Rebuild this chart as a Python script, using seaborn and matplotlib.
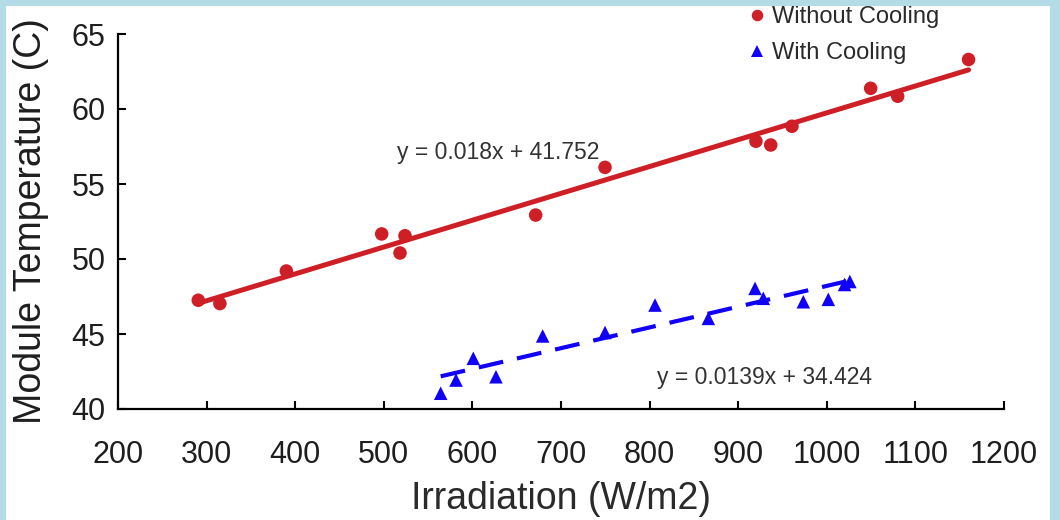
import numpy as np
import pandas as pd
import matplotlib
matplotlib.use("Agg")
import matplotlib.pyplot as plt
from matplotlib.patches import Rectangle
import seaborn as sns

# values
irr_without = [290.6, 315.0, 390.0, 497.6, 518.3, 523.9, 671.4, 749.7, 920.0, 936.7, 960.7, 1049.5, 1080.0, 1160.0]
temp_without = [47.25, 47.03, 49.2, 51.67, 50.4, 51.55, 52.93, 56.11, 57.85, 57.6, 58.85, 61.38, 60.85, 63.3]

irr_with = [564.2, 581.5, 601.0, 626.6, 679.3, 749.7, 806.1, 866.3, 919.0, 928.3, 973.5, 1001.7, 1020.0, 1026.0]
temp_with = [41.05, 41.93, 43.38, 42.15, 44.87, 45.1, 46.93, 46.04, 48.04, 47.38, 47.15, 47.31, 48.3, 48.5]

labels = ["Without Cooling", "With Cooling"]
eq_text = ["y = 0.018x + 41.752", "y = 0.0139x + 34.424"]

red = "#cf1f26"
blue = "#1000f5"

df = pd.DataFrame({
    "Irradiation": irr_without + irr_with,
    "Temp": temp_without + temp_with,
    "Condition": [labels[0]] * len(irr_without) + [labels[1]] * len(irr_with),
})

sns.set_style("ticks")
plt.rcParams['font.family'] = ['Liberation Sans', 'DejaVu Sans']

fig = plt.figure(figsize=(10.6, 5.2), dpi=100, facecolor="#b4dce6")
# white panel inside the light blue frame
fig.patches.append(Rectangle((6 / 1060, 0), 1044 / 1060, 514 / 520,
                             transform=fig.transFigure, facecolor="white",
                             edgecolor="none", zorder=-10))
ax = fig.add_axes([118 / 1060, 1 - 409 / 520, 886 / 1060, 375 / 520])

# fitted lines
sns.regplot(data=df[df.Condition == labels[0]], x="Irradiation", y="Temp",
            scatter=False, ci=None, truncate=True, ax=ax,
            line_kws={"color": red, "lw": 3.6, "zorder": 2})
sns.regplot(data=df[df.Condition == labels[1]], x="Irradiation", y="Temp",
            scatter=False, ci=None, truncate=True, ax=ax,
            line_kws={"color": blue, "lw": 3.0, "dashes": (6, 3.4), "zorder": 2})

# points
sns.scatterplot(data=df, x="Irradiation", y="Temp", hue="Condition", style="Condition",
                palette={labels[0]: red, labels[1]: blue},
                markers={labels[0]: "o", labels[1]: "^"},
                s=95, linewidth=0, ax=ax, zorder=3)

ax.set_xlim(200, 1200)
ax.set_ylim(40, 65)
ax.set_xticks(range(200, 1201, 100))
ax.set_yticks(range(40, 66, 5))
ax.patch.set_alpha(0)

sns.despine(ax=ax)
for s in ["left", "bottom"]:
    ax.spines[s].set_linewidth(1.6)
    ax.spines[s].set_color("black")
ax.tick_params(axis="both", direction="in", length=6, width=1.5, colors="black",
               labelcolor="#1e1e1e", labelsize=22)
ax.tick_params(axis="x", pad=22)
ax.tick_params(axis="y", pad=9)

ax.set_xlabel("Irradiation (W/m2)", fontsize=27, color="#2a2a2a", labelpad=8)
ax.set_ylabel("Module Temperature (C)", fontsize=27, color="#1e1e1e", labelpad=16)

ax.text(629, 57.13, eq_text[0], fontsize=16.5, ha="center", va="center", color="#333333")
ax.text(930, 42.07, eq_text[1], fontsize=16.5, ha="center", va="center", color="#333333")

handles, lbls = ax.get_legend_handles_labels()
ax.legend(handles, lbls, loc="upper left", bbox_to_anchor=(733 / 1060, 1 + 6 / 520),
          bbox_transform=fig.transFigure, frameon=False, fontsize=17,
          markerscale=0.85, handletextpad=0.15, handlelength=1.0,
          labelspacing=0.6, borderpad=0, labelcolor="#2a2a2a")

fig.savefig("out.png", dpi=100)
